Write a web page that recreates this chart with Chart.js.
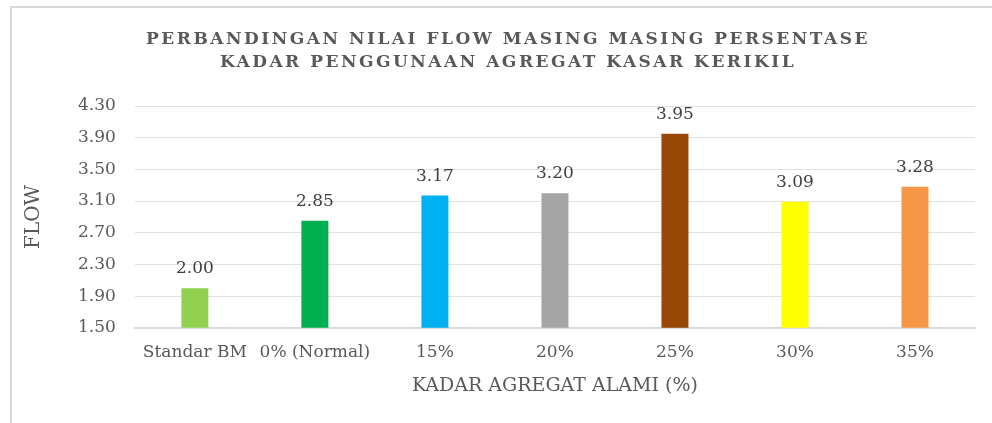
<!DOCTYPE html>
<html>
<head>
<meta charset="utf-8">
<script src="https://cdn.jsdelivr.net/npm/chart.js@4/dist/chart.umd.min.js"></script>
<style>
  html, body { margin: 0; padding: 0; background: #fff; }
  body { width: 992px; height: 423px; position: relative; overflow: hidden; }
  .frame { position: absolute; left: 10px; top: 6px; width: 990px; height: 420px;
           border-left: 2px solid #d9d9d9; border-top: 2px solid #d9d9d9; }
  .frame canvas { position: absolute; left: 0; top: 0; }
</style>
</head>
<body>
<div class="frame"><canvas id="flowChart" width="990" height="415"></canvas></div>
<script>
/* ─── DATA ─── */
const categories = ['Standar BM', '0% (Normal)', '15%', '20%', '25%', '30%', '35%'];
const flowValues = [2.00, 2.85, 3.17, 3.20, 3.95, 3.09, 3.28];
const barColors = ['#92D050', '#00B050', '#00B0F0', '#A5A5A5', '#974706', '#FFFF00', '#F79646'];
const yTicks = [1.50, 1.90, 2.30, 2.70, 3.10, 3.50, 3.90, 4.30];
const titleLines = ['PERBANDINGAN NILAI FLOW MASING MASING PERSENTASE', 'KADAR PENGGUNAAN AGREGAT KASAR KERIKIL'];

const FONT = "'DejaVu Serif', 'Liberation Serif', serif";
const GRAY = '#595959';

/* value labels above each bar */
const valueLabels = {
  id: 'valueLabels',
  afterDatasetsDraw(chart) {
    const ctx = chart.ctx;
    ctx.save();
    ctx.font = `17px ${FONT}`;
    ctx.fillStyle = '#404040';
    ctx.textAlign = 'center';
    ctx.textBaseline = 'alphabetic';
    chart.getDatasetMeta(0).data.forEach((bar, i) => {
      ctx.fillText(flowValues[i].toFixed(2), bar.x, bar.y - 15);
    });
    ctx.restore();
  }
};

/* chart title with expanded character spacing (canvas letterSpacing) */
const spacedTitle = {
  id: 'spacedTitle',
  afterDraw(chart) {
    const ctx = chart.ctx;
    ctx.save();
    ctx.font = `bold 17px ${FONT}`;
    ctx.letterSpacing = '2.5px';
    ctx.fillStyle = GRAY;
    ctx.textAlign = 'center';
    ctx.textBaseline = 'middle';
    titleLines.forEach((t, i) => ctx.fillText(t, chart.width / 2 + 1, 32 + i * 23));
    ctx.restore();
  }
};

new Chart(document.getElementById('flowChart').getContext('2d'), {
  type: 'bar',
  data: {
    labels: categories,
    datasets: [{
      data: flowValues,
      backgroundColor: barColors,
      borderWidth: 0,
      barPercentage: 0.225,
      categoryPercentage: 1
    }]
  },
  options: {
    responsive: false,
    animation: false,
    layout: { padding: { left: 10, right: 27, top: 98, bottom: 26 } },
    plugins: {
      legend: { display: false },
      tooltip: { enabled: false },
      title: { display: false }
    },
    scales: {
      x: {
        grid: { display: false, drawTicks: false },
        border: { color: '#d9d9d9', width: 2 },
        ticks: { color: GRAY, font: { family: FONT, size: 17 }, padding: 15, maxRotation: 0, autoSkip: false },
        title: { display: true, text: 'KADAR AGREGAT ALAMI (%)', color: GRAY, font: { family: FONT, size: 19 }, padding: { top: -4, bottom: 0 } }
      },
      y: {
        min: yTicks[0],
        max: yTicks[yTicks.length - 1],
        afterBuildTicks(axis) { axis.ticks = yTicks.map(v => ({ value: v })); },
        grid: { color: '#e0e0e0', lineWidth: 1, drawTicks: false },
        border: { display: false },
        ticks: { color: GRAY, font: { family: FONT, size: 17 }, padding: 19, callback: v => Number(v).toFixed(2) },
        title: { display: true, text: 'FLOW', color: GRAY, font: { family: FONT, size: 20 }, padding: { top: 0, bottom: 13 } }
      }
    }
  },
  plugins: [valueLabels, spacedTitle]
});
</script>
</body>
</html>
